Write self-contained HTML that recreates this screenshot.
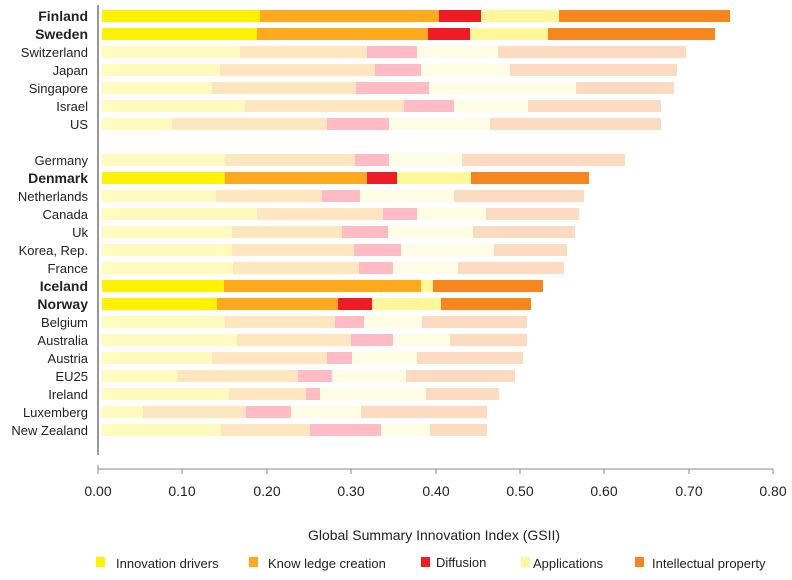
<!DOCTYPE html>
<html><head><meta charset="utf-8"><style>
html,body{margin:0;padding:0;background:#fff;}
svg{display:block;font-family:"Liberation Sans","DejaVu Sans",sans-serif;}
</style></head><body>
<svg width="792" height="580" viewBox="0 0 792 580" xmlns="http://www.w3.org/2000/svg">
<g>
<!-- Finland -->
<rect x="102" y="10" width="158" height="12" fill="#fff200"/><rect x="260" y="10" width="179" height="12" fill="#ffaa1e"/><rect x="439" y="10" width="42" height="12" fill="#ee1c25"/><rect x="481" y="10" width="78" height="12" fill="#fff799"/><rect x="559" y="10" width="171" height="12" fill="#f7861e"/>
<!-- Sweden -->
<rect x="102" y="28" width="155" height="12" fill="#fff200"/><rect x="257" y="28" width="171" height="12" fill="#ffaa1e"/><rect x="428" y="28" width="42" height="12" fill="#ee1c25"/><rect x="470" y="28" width="78" height="12" fill="#fff799"/><rect x="548" y="28" width="167" height="12" fill="#f7861e"/>
<!-- Switzerland -->
<rect x="102" y="46" width="138" height="12" fill="#fffbbf"/><rect x="240" y="46" width="127" height="12" fill="#fde6c0"/><rect x="367" y="46" width="50" height="12" fill="#ffbcc4"/><rect x="417" y="46" width="81" height="12" fill="#fffde6"/><rect x="498" y="46" width="188" height="12" fill="#fddbc0"/>
<!-- Japan -->
<rect x="102" y="64" width="118" height="12" fill="#fffbbf"/><rect x="220" y="64" width="155" height="12" fill="#fde6c0"/><rect x="375" y="64" width="46" height="12" fill="#ffbcc4"/><rect x="421" y="64" width="89" height="12" fill="#fffde6"/><rect x="510" y="64" width="167" height="12" fill="#fddbc0"/>
<!-- Singapore -->
<rect x="102" y="82" width="110" height="12" fill="#fffbbf"/><rect x="212" y="82" width="144" height="12" fill="#fde6c0"/><rect x="356" y="82" width="73" height="12" fill="#ffbcc4"/><rect x="429" y="82" width="147" height="12" fill="#fffde6"/><rect x="576" y="82" width="98" height="12" fill="#fddbc0"/>
<!-- Israel -->
<rect x="102" y="100" width="143" height="12" fill="#fffbbf"/><rect x="245" y="100" width="159" height="12" fill="#fde6c0"/><rect x="404" y="100" width="50" height="12" fill="#ffbcc4"/><rect x="454" y="100" width="74" height="12" fill="#fffde6"/><rect x="528" y="100" width="133" height="12" fill="#fddbc0"/>
<!-- US -->
<rect x="102" y="118" width="70" height="12" fill="#fffbbf"/><rect x="172" y="118" width="155" height="12" fill="#fde6c0"/><rect x="327" y="118" width="62" height="12" fill="#ffbcc4"/><rect x="389" y="118" width="101" height="12" fill="#fffde6"/><rect x="490" y="118" width="171" height="12" fill="#fddbc0"/>
<!-- Germany -->
<rect x="102" y="154" width="123" height="12" fill="#fffbbf"/><rect x="225" y="154" width="130" height="12" fill="#fde6c0"/><rect x="355" y="154" width="34" height="12" fill="#ffbcc4"/><rect x="389" y="154" width="73" height="12" fill="#fffde6"/><rect x="462" y="154" width="163" height="12" fill="#fddbc0"/>
<!-- Denmark -->
<rect x="102" y="172" width="123" height="12" fill="#fff200"/><rect x="225" y="172" width="142" height="12" fill="#ffaa1e"/><rect x="367" y="172" width="30" height="12" fill="#ee1c25"/><rect x="397" y="172" width="74" height="12" fill="#fff799"/><rect x="471" y="172" width="118" height="12" fill="#f7861e"/>
<!-- Netherlands -->
<rect x="102" y="190" width="114" height="12" fill="#fffbbf"/><rect x="216" y="190" width="106" height="12" fill="#fde6c0"/><rect x="322" y="190" width="38" height="12" fill="#ffbcc4"/><rect x="360" y="190" width="94" height="12" fill="#fffde6"/><rect x="454" y="190" width="130" height="12" fill="#fddbc0"/>
<!-- Canada -->
<rect x="102" y="208" width="155" height="12" fill="#fffbbf"/><rect x="257" y="208" width="126" height="12" fill="#fde6c0"/><rect x="383" y="208" width="34" height="12" fill="#ffbcc4"/><rect x="417" y="208" width="69" height="12" fill="#fffde6"/><rect x="486" y="208" width="93" height="12" fill="#fddbc0"/>
<!-- Uk -->
<rect x="102" y="226" width="130" height="12" fill="#fffbbf"/><rect x="232" y="226" width="110" height="12" fill="#fde6c0"/><rect x="342" y="226" width="46" height="12" fill="#ffbcc4"/><rect x="388" y="226" width="85" height="12" fill="#fffde6"/><rect x="473" y="226" width="102" height="12" fill="#fddbc0"/>
<!-- Korea -->
<rect x="102" y="244" width="130" height="12" fill="#fffbbf"/><rect x="232" y="244" width="122" height="12" fill="#fde6c0"/><rect x="354" y="244" width="47" height="12" fill="#ffbcc4"/><rect x="401" y="244" width="93" height="12" fill="#fffde6"/><rect x="494" y="244" width="73" height="12" fill="#fddbc0"/>
<!-- France -->
<rect x="102" y="262" width="131" height="12" fill="#fffbbf"/><rect x="233" y="262" width="126" height="12" fill="#fde6c0"/><rect x="359" y="262" width="34" height="12" fill="#ffbcc4"/><rect x="393" y="262" width="65" height="12" fill="#fffde6"/><rect x="458" y="262" width="106" height="12" fill="#fddbc0"/>
<!-- Iceland -->
<rect x="102" y="280" width="122" height="12" fill="#fff200"/><rect x="224" y="280" width="197" height="12" fill="#ffaa1e"/><rect x="421" y="280" width="12" height="12" fill="#fff799"/><rect x="433" y="280" width="110" height="12" fill="#f7861e"/>
<!-- Norway -->
<rect x="102" y="298" width="115" height="12" fill="#fff200"/><rect x="217" y="298" width="121" height="12" fill="#ffaa1e"/><rect x="338" y="298" width="34" height="12" fill="#ee1c25"/><rect x="372" y="298" width="69" height="12" fill="#fff799"/><rect x="441" y="298" width="90" height="12" fill="#f7861e"/>
<!-- Belgium -->
<rect x="102" y="316" width="123" height="12" fill="#fffbbf"/><rect x="225" y="316" width="110" height="12" fill="#fde6c0"/><rect x="335" y="316" width="29" height="12" fill="#ffbcc4"/><rect x="364" y="316" width="58" height="12" fill="#fffde6"/><rect x="422" y="316" width="105" height="12" fill="#fddbc0"/>
<!-- Australia -->
<rect x="102" y="334" width="135" height="12" fill="#fffbbf"/><rect x="237" y="334" width="114" height="12" fill="#fde6c0"/><rect x="351" y="334" width="42" height="12" fill="#ffbcc4"/><rect x="393" y="334" width="57" height="12" fill="#fffde6"/><rect x="450" y="334" width="77" height="12" fill="#fddbc0"/>
<!-- Austria -->
<rect x="102" y="352" width="110" height="12" fill="#fffbbf"/><rect x="212" y="352" width="115" height="12" fill="#fde6c0"/><rect x="327" y="352" width="25" height="12" fill="#ffbcc4"/><rect x="352" y="352" width="65" height="12" fill="#fffde6"/><rect x="417" y="352" width="106" height="12" fill="#fddbc0"/>
<!-- EU25 -->
<rect x="102" y="370" width="75" height="12" fill="#fffbbf"/><rect x="177" y="370" width="121" height="12" fill="#fde6c0"/><rect x="298" y="370" width="34" height="12" fill="#ffbcc4"/><rect x="332" y="370" width="74" height="12" fill="#fffde6"/><rect x="406" y="370" width="109" height="12" fill="#fddbc0"/>
<!-- Ireland -->
<rect x="102" y="388" width="127" height="12" fill="#fffbbf"/><rect x="229" y="388" width="77" height="12" fill="#fde6c0"/><rect x="306" y="388" width="14" height="12" fill="#ffbcc4"/><rect x="320" y="388" width="106" height="12" fill="#fffde6"/><rect x="426" y="388" width="73" height="12" fill="#fddbc0"/>
<!-- Luxemberg -->
<rect x="102" y="406" width="41" height="12" fill="#fffbbf"/><rect x="143" y="406" width="103" height="12" fill="#fde6c0"/><rect x="246" y="406" width="45" height="12" fill="#ffbcc4"/><rect x="291" y="406" width="70" height="12" fill="#fffde6"/><rect x="361" y="406" width="126" height="12" fill="#fddbc0"/>
<!-- New Zealand -->
<rect x="102" y="424" width="119" height="12" fill="#fffbbf"/><rect x="221" y="424" width="89" height="12" fill="#fde6c0"/><rect x="310" y="424" width="71" height="12" fill="#ffbcc4"/><rect x="381" y="424" width="49" height="12" fill="#fffde6"/><rect x="430" y="424" width="57" height="12" fill="#fddbc0"/>
</g>
<line x1="98" y1="5" x2="98" y2="455" stroke="#555" stroke-width="1.2"/>
<g stroke="#888" stroke-width="1">
<line x1="98" y1="469" x2="773" y2="469"/>
<line x1="98" y1="465" x2="98" y2="474"/><line x1="182" y1="469" x2="182" y2="474"/><line x1="267" y1="469" x2="267" y2="474"/><line x1="351" y1="469" x2="351" y2="474"/><line x1="436" y1="469" x2="436" y2="474"/><line x1="520" y1="469" x2="520" y2="474"/><line x1="604" y1="469" x2="604" y2="474"/><line x1="689" y1="469" x2="689" y2="474"/><line x1="773" y1="469" x2="773" y2="474"/>
</g>
<g font-size="14" fill="#222" text-anchor="middle">
<text x="98" y="496">0.00</text><text x="182" y="496">0.10</text><text x="267" y="496">0.20</text><text x="351" y="496">0.30</text><text x="436" y="496">0.40</text><text x="520" y="496">0.50</text><text x="604" y="496">0.60</text><text x="689" y="496">0.70</text><text x="773" y="496">0.80</text>
<text x="434" y="540" font-size="14">Global Summary Innovation Index (GSII)</text>
</g>
<g font-size="13" fill="#222">
<rect x="96" y="557" width="9" height="10" fill="#fff200"/><text x="116" y="568">Innovation drivers</text>
<rect x="249" y="557" width="9" height="10" fill="#ffaa1e"/><text x="268" y="568">Know ledge creation</text>
<rect x="421" y="557" width="9" height="10" fill="#ee1c25"/><text x="436" y="567">Diffusion</text>
<rect x="521" y="557" width="9" height="10" fill="#fff799"/><text x="533" y="568">Applications</text>
<rect x="635" y="557" width="9" height="10" fill="#f7861e"/><text x="652" y="568">Intellectual property</text>
</g>
<g font-size="13" fill="#222" text-anchor="end">
<text x="88" y="21" font-weight="bold" font-size="14">Finland</text>
<text x="88" y="39" font-weight="bold" font-size="14">Sweden</text>
<text x="88" y="57">Switzerland</text>
<text x="88" y="75">Japan</text>
<text x="88" y="93">Singapore</text>
<text x="88" y="111">Israel</text>
<text x="88" y="129">US</text>
<text x="88" y="165">Germany</text>
<text x="88" y="183" font-weight="bold" font-size="14">Denmark</text>
<text x="88" y="201">Netherlands</text>
<text x="88" y="219">Canada</text>
<text x="88" y="237">Uk</text>
<text x="88" y="255">Korea, Rep.</text>
<text x="88" y="273">France</text>
<text x="88" y="291" font-weight="bold" font-size="14">Iceland</text>
<text x="88" y="309" font-weight="bold" font-size="14">Norway</text>
<text x="88" y="327">Belgium</text>
<text x="88" y="345">Australia</text>
<text x="88" y="363">Austria</text>
<text x="88" y="381">EU25</text>
<text x="88" y="399">Ireland</text>
<text x="88" y="417">Luxemberg</text>
<text x="88" y="435">New Zealand</text>
</g>
</svg>
</body></html>
